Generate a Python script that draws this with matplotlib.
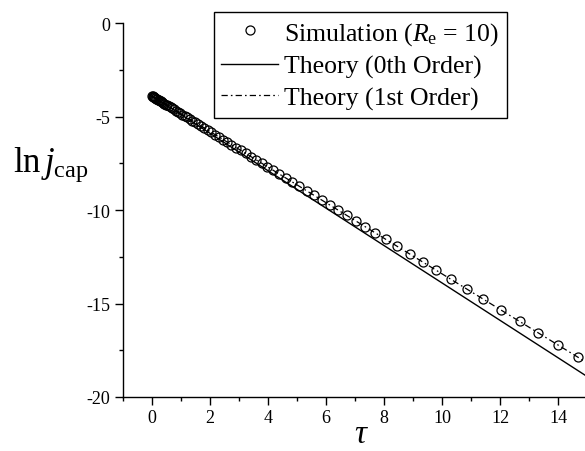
import matplotlib
matplotlib.use("Agg")
import matplotlib.pyplot as plt
from matplotlib.ticker import MultipleLocator

# simulation points (tau, ln j_cap)
tau_sim = [0.00, 0.02, 0.04, 0.06, 0.08, 0.10, 0.12, 0.15, 0.18, 0.21, 0.24, 0.27,
           0.31, 0.35, 0.39, 0.43, 0.48, 0.53, 0.58, 0.64, 0.70, 0.76, 0.83, 0.90,
           0.97, 1.05, 1.13, 1.21, 1.30, 1.39, 1.49, 1.59, 1.70, 1.81, 1.93, 2.05,
           2.18, 2.31, 2.45, 2.59, 2.74, 2.90, 3.06, 3.23, 3.41, 3.59, 3.78, 3.98,
           4.18, 4.39, 4.61, 4.84, 5.08, 5.33, 5.58, 5.85, 6.13, 6.42, 6.72, 7.03,
           7.36, 7.70, 8.06, 8.46, 8.90, 9.33, 9.80, 10.30, 10.85, 11.42, 12.04,
           12.68, 13.32, 14.00, 14.69]
lnj_sim = [-3.90, -3.92, -3.94, -3.96, -3.98, -4.00, -4.01, -4.04, -4.07, -4.10, -4.13, -4.16,
           -4.19, -4.23, -4.27, -4.31, -4.36, -4.40, -4.45, -4.51, -4.57, -4.62, -4.69, -4.76,
           -4.82, -4.90, -4.97, -5.05, -5.14, -5.22, -5.32, -5.41, -5.52, -5.62, -5.74, -5.85,
           -5.97, -6.10, -6.23, -6.36, -6.51, -6.66, -6.81, -6.97, -7.14, -7.31, -7.49, -7.69,
           -7.88, -8.07, -8.28, -8.50, -8.73, -8.97, -9.21, -9.46, -9.73, -10.01, -10.29, -10.59,
           -10.90, -11.22, -11.57, -11.95, -12.36, -12.77, -13.22, -13.70, -14.22, -14.76, -15.35,
           -15.96, -16.57, -17.21, -17.87]

# theory lines (straight in this plot)
tau_theory = [0.0, 15.0]
lnj_0th = [-3.90, -18.90]
lnj_1st = [-3.90, -18.17]

labels = ["Simulation ($R_\\mathrm{e}$ = 10)", "Theory (0th Order)", "Theory (1st Order)"]

plt.rcParams["font.family"] = "Liberation Serif"
plt.rcParams["mathtext.fontset"] = "custom"
plt.rcParams["mathtext.rm"] = "Liberation Serif"
plt.rcParams["mathtext.it"] = "Liberation Serif:italic"
plt.rcParams["axes.unicode_minus"] = False

fig = plt.figure(figsize=(5.85, 4.52), dpi=100)
ax = fig.add_axes([123 / 585, 54 / 452, 464 / 585, 374 / 452])

h1, = ax.plot(tau_sim, lnj_sim, "o", mfc="none", mec="black", ms=6.5, mew=0.9, zorder=3)
h2, = ax.plot(tau_theory, lnj_0th, "-", color="black", lw=1.0)
h3, = ax.plot(tau_theory, lnj_1st, color="black", lw=0.9, ls=(0, (5, 2.5, 1.3, 2.5)))

ax.set_xlim(-1, 15)
ax.set_ylim(-20, 0)
ax.xaxis.set_major_locator(MultipleLocator(2))
ax.xaxis.set_minor_locator(MultipleLocator(1))
ax.yaxis.set_major_locator(MultipleLocator(5))
ax.yaxis.set_minor_locator(MultipleLocator(2.5))
ax.tick_params(which="major", direction="out", length=6, width=1, labelsize=13, pad=3)
ax.tick_params(which="minor", direction="out", length=3, width=1)
for s in ["top", "right"]:
    ax.spines[s].set_visible(False)
for s in ["left", "bottom"]:
    ax.spines[s].set_linewidth(1.0)

leg = fig.legend([h1, h2, h3], labels, loc="upper right",
                 bbox_to_anchor=(507 / 585, 1 - 13 / 452), borderaxespad=0,
                 fontsize=18.5, fancybox=False, framealpha=1, edgecolor="black",
                 handlelength=2.2, handletextpad=0.25, borderpad=0.3,
                 labelspacing=0.32)
leg.get_frame().set_linewidth(1.0)

fig.text(13 / 585, 1 - 172 / 452, "$\\mathrm{ln}\\,j_{\\mathrm{cap}}$", fontsize=25,
         ha="left", va="baseline")
fig.text(360 / 585, 0.004, "τ", fontsize=24, fontstyle="italic",
         ha="center", va="bottom")

fig.savefig("out.png", dpi=100)
